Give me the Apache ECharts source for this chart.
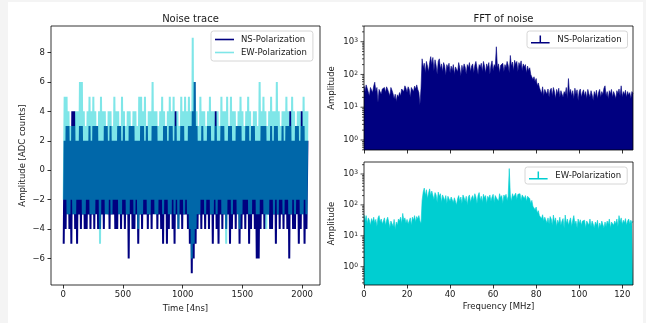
<!DOCTYPE html>
<html>
<head>
<meta charset="utf-8">
<script src="https://cdn.jsdelivr.net/npm/echarts@6/dist/echarts.min.js"></script>
<style>
  html, body { margin: 0; padding: 0; width: 646px; height: 323px; overflow: hidden; background: #f4f4f4; }
  #chart { position: absolute; left: 8px; top: 2px; width: 635px; height: 321px; background: #ffffff; }
</style>
</head>
<body>
<div id="chart"></div>
<script>
// ---- Noise trace: per 16-sample block, the lowest and highest ADC count ----
const blockSize = 16;            // samples per block
const nsLow = [
  -5,-4,-3,-4,-5,-3,-4,-5,-3,-4,-3,-4,-4,-3,-4,-3,
  -4,-3,-4,-4,-3,-4,-3,-3,-4,-3,-3,-4,-4,-3,-4,-3,
  -4,-3,-6,-3,-4,-4,-3,-5,-3,-4,-3,-3,-4,-3,-4,-3,
  -3,-4,-3,-4,-5,-3,-5,-4,-3,-4,-5,-3,-4,-3,-4,-3,
  -3,-4,-5,-7,-6,-5,-4,-3,-4,-3,-4,-3,-4,-3,-5,-3,
  -4,-5,-3,-4,-3,-4,-3,-5,-4,-3,-4,-3,-5,-4,-3,-4,
  -3,-5,-4,-3,-4,-6,-6,-4,-3,-4,-3,-3,-4,-4,-3,-5,
  -3,-4,-3,-4,-3,-4,-6,-3,-4,-4,-3,-5,-4,-3,-5,-4
];
const nsHigh = [
  2,3,3,2,4,4,2,2,3,3,2,2,2,3,2,3,
  3,3,2,2,2,3,3,2,3,2,2,2,3,3,2,3,
  2,2,3,3,3,2,2,2,3,3,2,3,2,2,3,3,
  3,2,2,2,3,3,2,3,3,2,4,2,2,3,3,2,
  2,3,3,4,6,3,2,2,3,2,2,3,3,2,2,4,
  2,2,3,3,2,2,3,3,2,2,3,3,3,2,2,3,
  3,2,3,3,2,2,2,3,3,3,2,2,3,2,3,3,
  2,2,3,2,3,3,4,2,2,3,3,2,4,3,2,2
];
const ewLow = [
  -2,-2,-3,-3,-2,-3,-3,-2,-2,-2,-3,-3,-2,-2,-3,-3,
  -3,-2,-2,-5,-2,-2,-3,-3,-2,-3,-2,-2,-2,-3,-3,-2,
  -2,-3,-3,-2,-2,-3,-2,-4,-3,-3,-2,-2,-3,-3,-2,-2,
  -3,-3,-2,-2,-3,-2,-2,-3,-3,-2,-3,-2,-4,-2,-2,-3,
  -2,-3,-4,-6,-5,-4,-3,-3,-2,-2,-3,-2,-2,-3,-3,-2,
  -3,-2,-2,-3,-3,-5,-2,-2,-3,-2,-2,-3,-4,-3,-2,-2,
  -2,-3,-3,-2,-2,-3,-3,-2,-2,-3,-4,-3,-2,-2,-3,-2,
  -3,-2,-2,-3,-2,-2,-3,-3,-2,-3,-2,-2,-3,-3,-2,-3
];
const ewHigh = [
  5,5,4,3,3,3,4,4,6,6,4,3,4,5,4,5,
  4,3,4,5,4,4,3,4,4,3,5,4,4,3,5,4,
  3,4,4,3,4,4,3,5,5,4,5,3,4,4,6,4,
  4,3,4,5,4,3,4,5,4,5,3,4,3,5,4,5,
  4,5,4,9,6,4,3,5,4,4,3,4,5,4,4,3,
  4,3,5,4,4,5,3,5,4,4,3,4,5,4,3,4,
  5,4,3,4,4,3,6,4,5,4,3,4,5,4,4,6,
  4,3,4,4,5,4,3,5,4,3,4,4,3,5,4,4
];

// ---- FFT amplitude spectra, 0 .. 125 MHz in 0.5 MHz bins ----
const binWidth = 0.5;            // MHz
const fftNS = [
  45,30,48,38,42,22,40,35,28,44,
  58,30,40,14,35,38,25,36,32,40,
  28,42,35,38,22,40,33,26,18,25,
  15,24,20,28,22,36,40,30,45,38,
  28,42,35,20,40,38,30,44,36,48,
  35,28,12,38,
  300,160,220,110,250,180,120,230,350,200,
  330,130,280,190,100,250,300,150,210,120,
  230,180,95,200,160,220,110,180,130,200,
  100,170,190,120,230,160,90,190,130,210,
  170,100,200,160,230,120,180,210,110,190,
  250,160,100,200,170,220,120,250,180,110,
  210,160,230,100,190,260,130,200,170,700,
  160,210,110,190,170,220,120,200,160,250,
  190,110,380,180,240,130,270,200,250,120,
  230,180,260,130,210,170,200,110,180,130,
  160,100,110,70,85,60,75,45,55,40,
  38,26,42,22,35,40,25,36,20,33,
  38,22,40,30,18,35,26,38,20,32,
  36,20,30,25,40,18,75,26,35,22,
  32,18,38,25,34,16,30,36,20,28,
  34,22,30,18,35,26,20,32,24,16,
  30,22,33,18,28,35,20,30,24,38,
  45,22,30,18,32,26,35,20,30,24,
  18,32,26,36,22,45,20,30,24,33,
  20,30,23,28,18,30,26
];
const fftEW = [
  48,30,45,25,38,32,22,36,28,40,
  26,34,20,38,45,28,35,24,30,38,
  22,32,40,28,18,30,25,20,34,16,
  28,22,35,30,40,25,53,32,38,26,
  34,24,30,38,22,40,32,45,28,42,
  35,45,30,25,
  140,260,350,200,310,160,240,330,200,280,
  320,150,250,210,120,260,190,230,120,210,
  240,140,200,110,190,220,130,180,200,120,
  170,190,100,160,200,130,180,110,210,170,
  130,190,100,180,210,120,170,200,140,230,
  180,110,200,250,140,190,120,220,170,200,
  110,190,160,210,130,180,220,120,200,170,
  190,130,230,170,200,110,210,180,220,140,
  190,1500,210,130,230,180,200,240,150,220,
  190,230,140,210,240,160,200,130,190,170,
  160,110,140,90,100,70,85,55,65,45,
  50,36,48,30,40,45,26,38,24,42,
  35,22,47,28,38,20,32,25,40,22,
  30,36,18,47,25,35,22,30,38,20,
  32,45,24,30,18,35,25,33,22,30,
  26,32,18,30,26,22,35,20,30,24,
  18,28,22,32,16,26,20,30,23,18,
  28,20,30,23,35,18,28,32,22,30,
  24,35,20,45,28,38,23,32,26,36,
  22,30,35,24,32,26,30
];

// ---- tick labels ----
const timeTicks = [0, 500, 1000, 1500, 2000];
const ampTicks = [-6, -4, -2, 0, 2, 4, 6, 8];
const freqTicks = [0, 20, 40, 60, 80, 100, 120];

// ---- build series data ----
function traceData(lows, highs) {
  const out = [];
  for (let i = 0; i < lows.length; i++) {
    out.push([i * blockSize + 4, lows[i]]);
    out.push([i * blockSize + 12, highs[i]]);
  }
  return out;
}
function spectrumData(vals) {
  return vals.map((v, i) => [i * binWidth, v]);
}
// major/minor tick marks for a decade axis between lo and hi
function logTickData(lo, hi) {
  const out = [];
  for (let e = -2; e <= 4; e++) {
    for (let m = 1; m <= 9; m++) {
      const v = m * Math.pow(10, e);
      if (v >= lo && v <= hi) out.push([0, v, m === 1 ? 1 : 0]);
    }
  }
  return out;
}

const FONT = 'DejaVu Sans';
const TXT = '#1a1a1a';
const NAVY = '#000080';
const TURQ = '#00ced1';
const EW_TRACE = 'rgba(0,206,209,0.5)';

const tickStyle = { color: '#000', width: 0.8 };
const labelBase = { fontSize: 8.5, color: TXT, fontFamily: FONT };
const nameStyle = { fontSize: 8.5, color: TXT, fontFamily: FONT };

function plainFmt(v) { return v < 0 ? '\u2212' + Math.abs(v) : String(v); }
function powFmt(v) {
  const l = Math.log10(v);
  const e = Math.round(l);
  return Math.abs(l - e) < 1e-6 ? '{b|10}{s|' + e + '}' : '';
}

const spec1 = { min: 0.495, max: 3013 };
const spec2 = { min: 0.256, max: 2443 };

const gridBase = { show: true, borderColor: '#000', borderWidth: 0.8, backgroundColor: 'transparent', z: 10, containLabel: false };

const legendBase = {
  orient: 'vertical', selectedMode: false,
  itemWidth: 19, itemGap: 4,
  padding: [4, 6, 4, 4],
  backgroundColor: 'rgba(255,255,255,0.8)',
  borderColor: '#cccccc', borderWidth: 0.8, borderRadius: 2.5,
  textStyle: { fontSize: 8.5, color: TXT, fontFamily: FONT, padding: [0, 0, 0, 2] }
};
const stemIcon = 'path://M0,8H20V9.6H0Z M9.2,1H10.8V8H9.2Z';
const noLine = { show: false, onZero: false };

function tickSeries(xi, range) {
  return {
    type: 'custom', xAxisIndex: xi, yAxisIndex: xi, silent: true, clip: false, z: 11,
    encode: { x: 0, y: 1 },
    data: logTickData(range.min, range.max),
    renderItem: function (params, api) {
      const p = api.coord([0, api.value(1)]);
      const len = api.value(2) ? 3.5 : 2;
      return { type: 'line', shape: { x1: p[0] - len, y1: p[1], x2: p[0], y2: p[1] },
               style: { stroke: '#000', lineWidth: 0.7 } };
    }
  };
}

const option = {
  animation: false,
  backgroundColor: '#ffffff',
  textStyle: { fontFamily: FONT },
  title: [
    { text: 'Noise trace', left: 177.5, top: 7, textAlign: 'center',
      textStyle: { fontSize: 10, fontWeight: 'normal', color: TXT, fontFamily: FONT } },
    { text: 'FFT of noise', left: 490.5, top: 7, textAlign: 'center',
      textStyle: { fontSize: 10, fontWeight: 'normal', color: TXT, fontFamily: FONT } }
  ],
  grid: [
    Object.assign({ left: 43, top: 24, width: 269, height: 259 }, gridBase),
    Object.assign({ left: 356, top: 24, width: 269, height: 124 }, gridBase),
    Object.assign({ left: 356, top: 160, width: 269, height: 123 }, gridBase)
  ],
  legend: [
    Object.assign({}, legendBase, {
      left: 203, top: 29, itemHeight: 1.6,
      data: [
        { name: 'NS-Polarization', icon: 'rect', itemStyle: { color: NAVY } },
        { name: 'EW-Polarization', icon: 'rect', itemStyle: { color: EW_TRACE } }
      ]
    }),
    Object.assign({}, legendBase, {
      left: 519, top: 29, itemHeight: 8, itemWidth: 20,
      data: [{ name: 'NS-Polarization', icon: stemIcon, itemStyle: { color: NAVY } }]
    }),
    Object.assign({}, legendBase, {
      left: 517, top: 165, itemHeight: 8, itemWidth: 20,
      data: [{ name: 'EW-Polarization', icon: stemIcon, itemStyle: { color: TURQ } }]
    })
  ],
  xAxis: [
    {
      type: 'value', gridIndex: 0, min: -102.35, max: 2149.35,
      axisLine: noLine, splitLine: { show: false },
      axisTick: { show: true, length: 3.5, lineStyle: tickStyle, customValues: timeTicks },
      axisLabel: Object.assign({ customValues: timeTicks, margin: 5, formatter: plainFmt }, labelBase),
      name: 'Time [4ns]', nameLocation: 'middle', nameGap: 17, nameTextStyle: nameStyle
    },
    {
      type: 'value', gridIndex: 1, min: 0, max: 125,
      axisLine: noLine, splitLine: { show: false },
      axisTick: { show: true, length: 3.5, lineStyle: tickStyle, customValues: freqTicks },
      axisLabel: { show: false }
    },
    {
      type: 'value', gridIndex: 2, min: 0, max: 125,
      axisLine: noLine, splitLine: { show: false },
      axisTick: { show: true, length: 3.5, lineStyle: tickStyle, customValues: freqTicks },
      axisLabel: Object.assign({ customValues: freqTicks, margin: 5, formatter: plainFmt }, labelBase),
      name: 'Frequency [MHz]', nameLocation: 'middle', nameGap: 17, nameTextStyle: nameStyle
    }
  ],
  yAxis: [
    {
      type: 'value', gridIndex: 0, min: -7.8, max: 9.8,
      axisLine: noLine, splitLine: { show: false },
      axisTick: { show: true, length: 3.5, lineStyle: tickStyle, customValues: ampTicks },
      axisLabel: Object.assign({ customValues: ampTicks, margin: 6, formatter: plainFmt }, labelBase),
      name: 'Amplitude [ADC counts]', nameLocation: 'middle', nameRotate: 90, nameGap: 24,
      nameMoveOverlap: false, nameTextStyle: nameStyle
    },
    {
      type: 'log', logBase: 10, gridIndex: 1, min: spec1.min, max: spec1.max,
      axisLine: noLine, splitLine: { show: false }, axisTick: { show: false },
      axisLabel: { margin: 6, formatter: powFmt, showMinLabel: false, showMaxLabel: false,
        rich: { b: labelBase, s: { fontSize: 6, color: TXT, fontFamily: FONT, verticalAlign: 'top' } } },
      name: 'Amplitude', nameLocation: 'middle', nameRotate: 90, nameGap: 28,
      nameMoveOverlap: false, nameTextStyle: nameStyle
    },
    {
      type: 'log', logBase: 10, gridIndex: 2, min: spec2.min, max: spec2.max,
      axisLine: noLine, splitLine: { show: false }, axisTick: { show: false },
      axisLabel: { margin: 6, formatter: powFmt, showMinLabel: false, showMaxLabel: false,
        rich: { b: labelBase, s: { fontSize: 6, color: TXT, fontFamily: FONT, verticalAlign: 'top' } } },
      name: 'Amplitude', nameLocation: 'middle', nameRotate: 90, nameGap: 28,
      nameMoveOverlap: false, nameTextStyle: nameStyle
    }
  ],
  series: [
    {
      name: 'NS-Polarization', type: 'line', xAxisIndex: 0, yAxisIndex: 0,
      data: traceData(nsLow, nsHigh), showSymbol: false, symbol: 'none', sampling: null,
      lineStyle: { color: NAVY, width: 2, join: 'miter', miterLimit: 2 }, itemStyle: { color: NAVY }, z: 2
    },
    {
      name: 'EW-Polarization', type: 'line', xAxisIndex: 0, yAxisIndex: 0,
      data: traceData(ewLow, ewHigh), showSymbol: false, symbol: 'none', sampling: null,
      lineStyle: { color: TURQ, width: 2, opacity: 0.5, join: 'miter', miterLimit: 2 }, itemStyle: { color: EW_TRACE }, z: 3
    },
    {
      name: 'NS-Polarization', type: 'line', xAxisIndex: 1, yAxisIndex: 1,
      data: spectrumData(fftNS), showSymbol: false, symbol: 'none',
      lineStyle: { color: NAVY, width: 0.6 }, itemStyle: { color: NAVY },
      areaStyle: { color: NAVY, opacity: 1, origin: 'start' }
    },
    {
      name: 'EW-Polarization', type: 'line', xAxisIndex: 2, yAxisIndex: 2,
      data: spectrumData(fftEW), showSymbol: false, symbol: 'none',
      lineStyle: { color: TURQ, width: 0.6 }, itemStyle: { color: TURQ },
      areaStyle: { color: TURQ, opacity: 1, origin: 'start' }
    },
    tickSeries(1, spec1),
    tickSeries(2, spec2)
  ]
};

const chart = echarts.init(document.getElementById('chart'), null, { renderer: 'canvas' });
chart.setOption(option);
</script>
</body>
</html>
